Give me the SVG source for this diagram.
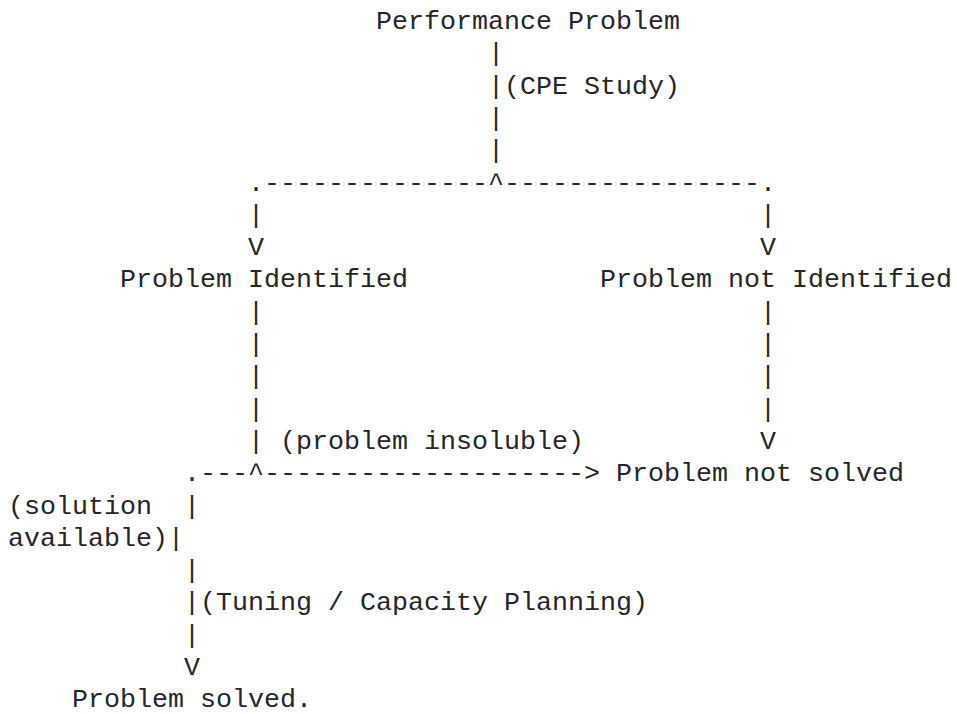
<svg xmlns="http://www.w3.org/2000/svg" width="957" height="714" viewBox="0 0 957 714">
<style>
text { font-family: "Liberation Mono", "DejaVu Sans Mono", monospace; font-size: 26.67px; fill: #262626; }
</style>
<rect width="957" height="714" fill="#ffffff"/>
<g id="connectors">
  <text x="488" y="61.3">|</text>
  <text x="488" y="93.6">|</text>
  <text x="488" y="125.9">|</text>
  <text x="488" y="158.2">|</text>
  <text x="248" y="190.5">.--------------^----------------.</text>
  <text x="248" y="222.8">|</text>
  <text x="760" y="222.8">|</text>
  <text x="248" y="255.1">V</text>
  <text x="760" y="255.1">V</text>
  <text x="248" y="319.7">|</text>
  <text x="248" y="352">|</text>
  <text x="248" y="384.3">|</text>
  <text x="248" y="416.6">|</text>
  <text x="248" y="448.9">|</text>
  <text x="760" y="319.7">|</text>
  <text x="760" y="352">|</text>
  <text x="760" y="384.3">|</text>
  <text x="760" y="416.6">|</text>
  <text x="760" y="448.9">V</text>
  <text x="184" y="481.2">.---^--------------------&gt;</text>
  <text x="184" y="513.5">|</text>
  <text x="168" y="545.8">|</text>
  <text x="184" y="578.1">|</text>
  <text x="184" y="610.4">|</text>
  <text x="184" y="642.7">|</text>
  <text x="184" y="675">V</text>
</g>
<g id="label-cpe-study"><text x="504" y="93.6">(CPE Study)</text></g>
<g id="label-problem-insoluble"><text x="280" y="448.9">(problem insoluble)</text></g>
<g id="label-solution-available"><text x="8" y="513.5">(solution</text><text x="8" y="545.8">available)</text></g>
<g id="label-tuning"><text x="200" y="610.4">(Tuning / Capacity Planning)</text></g>
<g id="node-performance-problem"><text x="376" y="29">Performance Problem</text></g>
<g id="node-problem-identified"><text x="120" y="287.4">Problem Identified</text></g>
<g id="node-problem-not-identified"><text x="600" y="287.4">Problem not Identified</text></g>
<g id="node-problem-not-solved"><text x="616" y="481.2">Problem not solved</text></g>
<g id="node-problem-solved"><text x="72" y="707.3">Problem solved.</text></g>
</svg>
